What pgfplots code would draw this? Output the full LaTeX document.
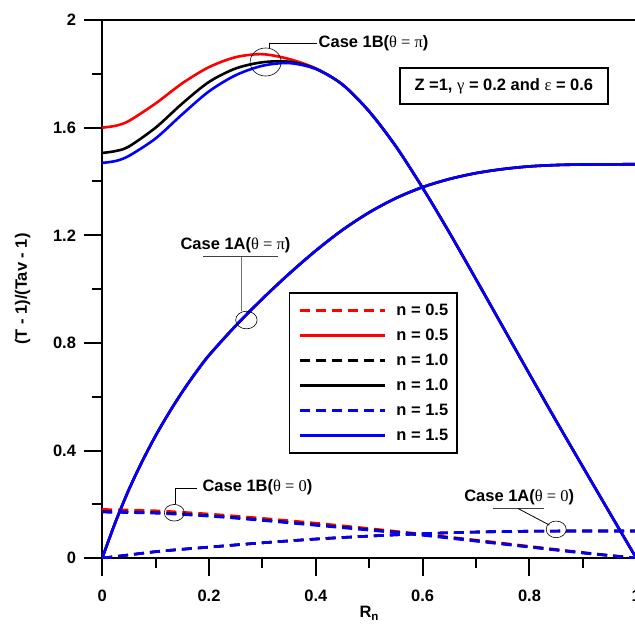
\documentclass[border=0pt]{standalone}
\usepackage{fontspec}
\setmainfont{Liberation Sans}
\newfontfamily\grk{Liberation Serif}
\usepackage{pgfplots}
\usepackage{pgfplotstable}
\pgfplotsset{compat=1.18}

\newcommand\lab{\fontsize{16.5}{20}\selectfont\bfseries}
\newcommand\gk[1]{{\grk\mdseries #1}}

% Case 1B, theta = pi (solid)
\pgfplotstableread{
x     n05    n10    n15
0.000 1.600  1.506  1.469
0.025 1.607  1.513  1.476
0.050 1.625  1.530  1.495
0.100 1.690  1.600  1.560
0.150 1.765  1.690  1.650
0.200 1.825  1.770  1.735
0.250 1.862  1.820  1.795
0.300 1.873  1.843  1.830
0.350 1.855  1.845  1.840
0.400 1.820  1.819  1.818
0.450 1.760  1.760  1.760
0.500 1.660  1.660  1.660
0.550 1.530  1.530  1.530
0.600 1.376  1.376  1.376
0.650 1.210  1.210  1.210
0.700 1.036  1.036  1.036
0.750 0.860  0.860  0.860
0.800 0.684  0.684  0.684
0.850 0.510  0.510  0.510
0.900 0.339  0.339  0.339
0.950 0.169  0.169  0.169
1.000 0.000  0.000  0.000
}\caseBpi

% Case 1B, theta = 0 (dashed)
\pgfplotstableread{
x    n05    n10    n15
0.0  0.181  0.173  0.171
0.1  0.176  0.169  0.167
0.2  0.164  0.158  0.156
0.3  0.148  0.142  0.140
0.4  0.130  0.124  0.122
0.5  0.110  0.106  0.104
0.6  0.089  0.087  0.085
0.7  0.067  0.065  0.063
0.8  0.044  0.042  0.041
0.9  0.021  0.020  0.019
1.0  0.000  0.000  0.000
}\caseBzero

% Case 1A, theta = pi (solid, all n coincide)
\pgfplotstableread{
x     y
0.000 0.000
0.025 0.135
0.050 0.255
0.075 0.360
0.100 0.455
0.125 0.540
0.150 0.618
0.175 0.689
0.200 0.754
0.250 0.864
0.300 0.964
0.350 1.057
0.400 1.143
0.450 1.220
0.500 1.285
0.550 1.338
0.600 1.379
0.650 1.409
0.700 1.431
0.750 1.446
0.800 1.456
0.850 1.461
0.900 1.463
1.000 1.464
}\caseApi

% Case 1A, theta = 0 (dashed, all n coincide)
\pgfplotstableread{
x    y
0.00 0.000
0.05 0.012
0.10 0.024
0.15 0.033
0.20 0.041
0.30 0.057
0.40 0.071
0.50 0.082
0.60 0.091
0.70 0.097
0.80 0.100
0.90 0.101
1.00 0.101
}\caseAzero

\begin{document}
\begin{tikzpicture}
\begin{axis}[
    scale only axis,
    width=533bp, height=537bp,
    xmin=0, xmax=1, ymin=0, ymax=2,
    xtick={0,0.2,0.4,0.6,0.8,1},
    ytick={0,0.4,0.8,1.2,1.6,2},
    minor x tick num=1, minor y tick num=1,
    tick pos=left, tick align=inside,
    major tick length=-18bp, minor tick length=-10bp,
    every tick/.style={black, line width=2bp},
    axis line style={line width=2.5bp},
    ticklabel style={font=\lab, inner sep=0bp},
    /pgf/number format/assume math mode=true,
    xticklabel style={anchor=north},
    yticklabel style={anchor=east},
    xticklabel shift=32bp,
    yticklabel shift=26bp,
    xlabel={R\textsubscript{n}},
    ylabel={(T - 1)/(Tav - 1)},
    label style={font=\lab},
    xlabel style={at={(axis description cs:0.5,-0.1024)}, anchor=center},
    ylabel style={at={(axis description cs:-0.1492,0.5)}, anchor=center},
    legend style={at={(rel axis cs:0.3496,0.494)}, anchor=north west,
        draw=black, line width=1.5bp, font=\lab,
        inner xsep=9bp, inner ysep=11bp, row sep=12bp, column sep=10bp,
        nodes={inner sep=0bp}},
    legend cell align=left,
    legend image code/.code={\draw[#1] (0bp,0bp) -- (85bp,0bp);},
    cv/.style={smooth, line width=2.6bp},
    dsh/.style={dash pattern=on 10bp off 6bp},
]
\coordinate (SW) at (rel axis cs:0,0);
\coordinate (NE) at (rel axis cs:1,1);

% Case 1A curves (identical for all n)
\addplot[cv, red, forget plot] table[x=x, y=y] {\caseApi};
\addplot[cv, black, forget plot] table[x=x, y=y] {\caseApi};
\addplot[cv, red, dsh, forget plot] table[x=x, y=y] {\caseAzero};
\addplot[cv, black, dsh, forget plot] table[x=x, y=y] {\caseAzero};

\addplot[cv, red, dsh] table[x=x, y=n05] {\caseBzero};
\addlegendentry{n = 0.5}
\addplot[cv, red] table[x=x, y=n05] {\caseBpi};
\addlegendentry{n = 0.5}
\addplot[cv, black, dsh] table[x=x, y=n10] {\caseBzero};
\addlegendentry{n = 1.0}
\addplot[cv, black] table[x=x, y=n10] {\caseBpi};
\addlegendentry{n = 1.0}
\addplot[cv, blue, dsh] table[x=x, y=n15] {\caseBzero};
\addlegendentry{n = 1.5}
\addplot[cv, blue] table[x=x, y=n15] {\caseBpi};
\addlegendentry{n = 1.5}

\addplot[cv, blue, forget plot] table[x=x, y=y] {\caseApi};
\addplot[cv, blue, dsh, forget plot] table[x=x, y=y] {\caseAzero};

% annotations
\draw[line width=0.6bp] (axis cs:0.306,1.844) ellipse [x radius=15.5bp, y radius=14bp];
\draw[line width=0.8bp] (axis cs:0.313,1.896) |- (axis cs:0.4015,1.914);
\node[anchor=west, font=\lab, inner sep=0bp] at (axis cs:0.405,1.914) {Case 1B(\gk{θ = π})};

\node[draw, line width=1.8bp, font=\lab, minimum width=208bp, minimum height=36bp, inner sep=0bp]
    at (axis cs:0.752,1.754) {Z =1, \gk{γ} = 0.2 and \gk{ε} = 0.6};

\node[font=\lab, inner sep=0bp] at (axis cs:0.2495,1.162) {Case 1A(\gk{θ = π})};
\draw[black!75, line width=0.8bp] (axis cs:0.1895,1.121) -- (axis cs:0.3283,1.121);
\draw[black!55, line width=0.8bp] (axis cs:0.260,1.121) -- (axis cs:0.260,0.917);
\draw[line width=0.6bp] (axis cs:0.270,0.885) ellipse [x radius=10.7bp, y radius=8.8bp];

\node[anchor=west, font=\lab, inner sep=0bp] at (axis cs:0.1876,0.2644) {Case 1B(\gk{θ = 0})};
\draw[line width=0.8bp] (axis cs:0.1777,0.2596) -| (axis cs:0.137,0.2);
\draw[line width=0.6bp] (axis cs:0.135,0.1687) ellipse [x radius=10bp, y radius=8.3bp];

\node[anchor=east, font=\lab, inner sep=0bp] at (axis cs:0.8837,0.2246) {Case 1A(\gk{θ = 0})};
\draw[black!75, line width=0.8bp] (axis cs:0.731,0.1851) -- (axis cs:0.8268,0.1851);
\draw[line width=0.8bp] (axis cs:0.778,0.1851) -- (axis cs:0.8373,0.1229);
\draw[line width=0.6bp] (axis cs:0.85,0.1069) ellipse [x radius=10bp, y radius=8.3bp];
\end{axis}
\pgfresetboundingbox
\useasboundingbox ([xshift=-102bp,yshift=-71bp]SW) rectangle ([xshift=-1.3bp,yshift=20bp]NE);
\end{tikzpicture}
\end{document}
